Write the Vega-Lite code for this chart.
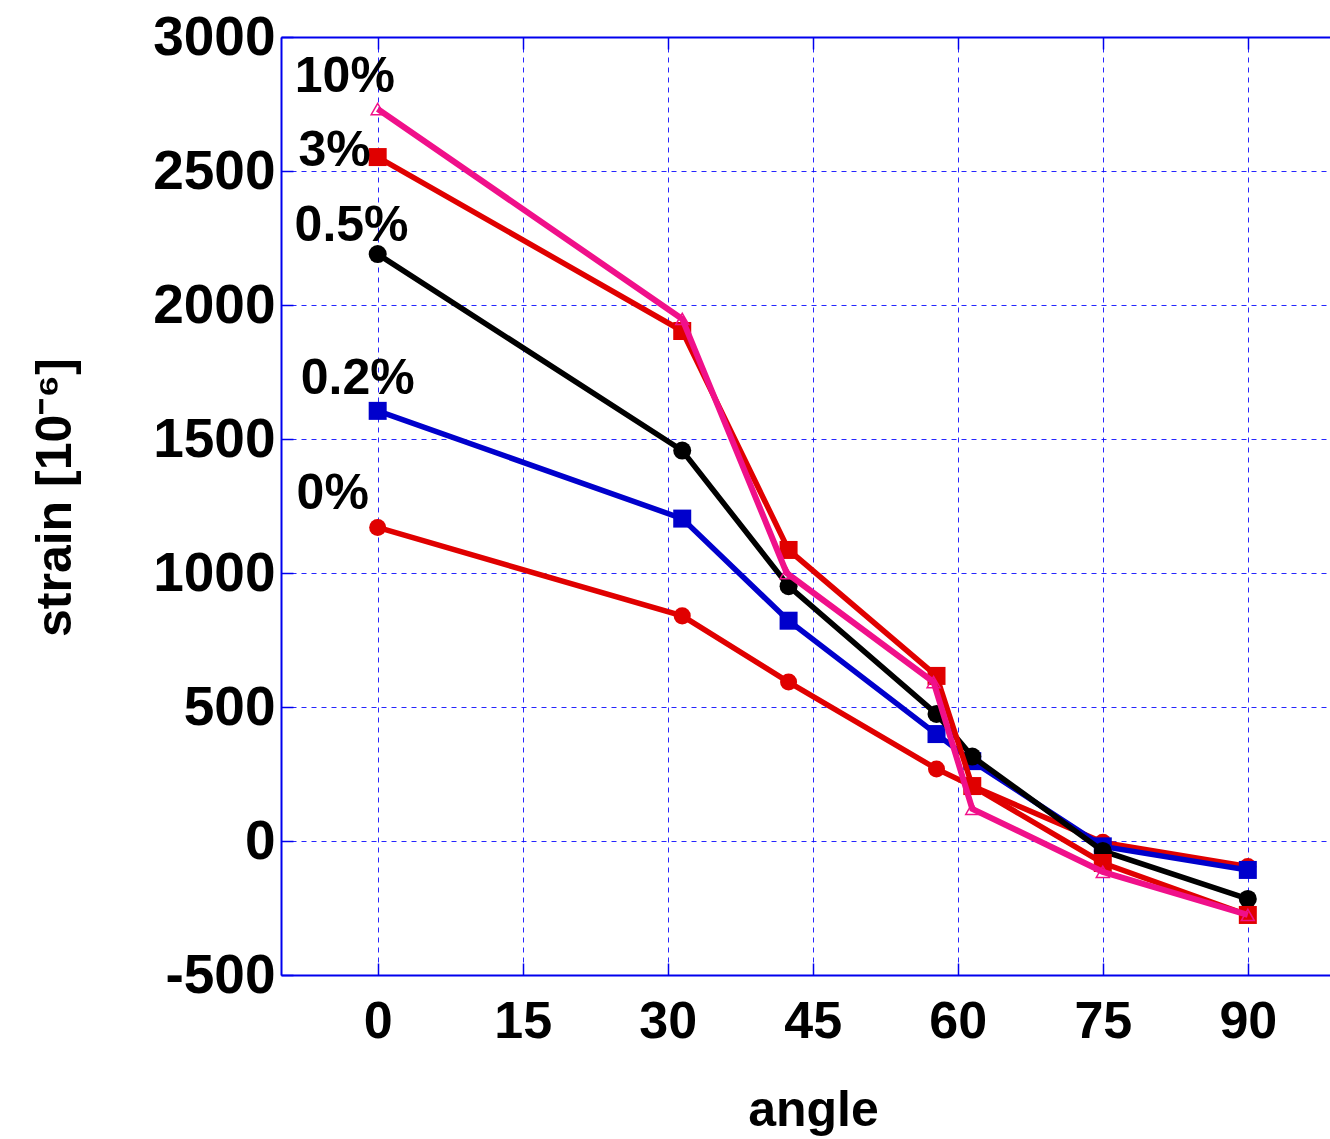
{
  "$schema": "https://vega.github.io/schema/vega-lite/v6.json",
  "autosize": "none",
  "width": 1049,
  "height": 938,
  "padding": {"left": 281, "top": 37, "right": 0, "bottom": 164},
  "background": "white",
  "config": {"view": {"stroke": null}, "font": "Liberation Sans"},
  "datasets": {
    "strain": [
      {"series": "0%", "angle": 0, "strain": 1170},
      {"series": "0%", "angle": 31.5, "strain": 840},
      {"series": "0%", "angle": 42.5, "strain": 593},
      {"series": "0%", "angle": 57.8, "strain": 269},
      {"series": "0%", "angle": 61.5, "strain": 205},
      {"series": "0%", "angle": 75, "strain": -5},
      {"series": "0%", "angle": 90, "strain": -95},
      {"series": "0.2%", "angle": 0, "strain": 1605},
      {"series": "0.2%", "angle": 31.5, "strain": 1203},
      {"series": "0.2%", "angle": 42.5, "strain": 822},
      {"series": "0.2%", "angle": 57.8, "strain": 399},
      {"series": "0.2%", "angle": 61.5, "strain": 298},
      {"series": "0.2%", "angle": 75, "strain": -20},
      {"series": "0.2%", "angle": 90, "strain": -108},
      {"series": "0.5%", "angle": 0, "strain": 2190},
      {"series": "0.5%", "angle": 31.5, "strain": 1457},
      {"series": "0.5%", "angle": 42.5, "strain": 951},
      {"series": "0.5%", "angle": 57.8, "strain": 474},
      {"series": "0.5%", "angle": 61.5, "strain": 315},
      {"series": "0.5%", "angle": 75, "strain": -37},
      {"series": "0.5%", "angle": 90, "strain": -216},
      {"series": "3%", "angle": 0, "strain": 2552},
      {"series": "3%", "angle": 31.5, "strain": 1903},
      {"series": "3%", "angle": 42.5, "strain": 1086},
      {"series": "3%", "angle": 57.8, "strain": 616},
      {"series": "3%", "angle": 61.5, "strain": 205},
      {"series": "3%", "angle": 75, "strain": -82},
      {"series": "3%", "angle": 90, "strain": -276},
      {"series": "10%", "angle": 0, "strain": 2731},
      {"series": "10%", "angle": 31.5, "strain": 1948},
      {"series": "10%", "angle": 42.3, "strain": 1000},
      {"series": "10%", "angle": 57.5, "strain": 593},
      {"series": "10%", "angle": 61.5, "strain": 120},
      {"series": "10%", "angle": 75, "strain": -115},
      {"series": "10%", "angle": 90, "strain": -276}
    ],
    "labels": [
      {"label": "10%", "angle": -3.4, "strain": 2850},
      {"label": "3%", "angle": -4.45, "strain": 2575},
      {"label": "0.5%", "angle": -2.7, "strain": 2295},
      {"label": "0.2%", "angle": -2.07, "strain": 1725},
      {"label": "0%", "angle": -4.65, "strain": 1295}
    ]
  },
  "resolve": {"axis": {"x": "independent"}},
  "layer": [
    {
      "layer": [
        {
          "data": {"name": "strain"},
          "transform": [{"filter": "datum.series === '0%'"}],
          "mark": {"type": "line", "color": "#e00000", "strokeWidth": 5.5, "point": {"filled": true, "shape": "circle", "size": 290, "color": "#e00000"}},
          "encoding": {
            "x": {"field": "angle", "type": "quantitative", "scale": {"domain": [-10, 98.5], "nice": false, "zero": false},
              "axis": {"values": [0, 15, 30, 45, 60, 75, 90], "labelExpr": "'' + datum.value", "title": "angle", "titleFont": "Liberation Sans", "titleFontSize": 50, "titleFontWeight": "bold", "titleColor": "black", "titleX": 532, "titleY": 135, "titleBaseline": "middle", "titleAlign": "center",
                "labelFont": "Liberation Sans", "labelFontSize": 52, "labelFontWeight": "bold", "labelColor": "black", "labelPadding": 33, "labelFlush": false, "labelOverlap": false,
                "domainColor": "#0000ee", "domainWidth": 2, "tickColor": "#0000ee", "tickWidth": 1.5, "tickSize": -12,
                "grid": true, "gridColor": "#0000ff", "gridDash": [5, 5], "gridWidth": 1, "gridOpacity": 0.85}},
            "y": {"field": "strain", "type": "quantitative", "scale": {"domain": [-500, 3000], "nice": false, "zero": false},
              "axis": {"values": [-500, 0, 500, 1000, 1500, 2000, 2500, 3000], "labelExpr": "'' + datum.value", "title": "strain [10⁻⁶]", "titleFont": "Liberation Sans", "titleFontSize": 50, "titleFontWeight": "bold", "titleColor": "black", "titleX": -226, "titleY": 460, "titleBaseline": "middle", "titleAlign": "center", "titleAngle": -90,
                "labelFont": "Liberation Sans", "labelFontSize": 55, "labelFontWeight": "bold", "labelColor": "black", "labelPadding": 18, "labelFlush": false, "labelOverlap": false,
                "domainColor": "#0000ee", "domainWidth": 2, "tickColor": "#0000ee", "tickWidth": 1.5, "tickSize": -12,
                "grid": true, "gridColor": "#0000ff", "gridDash": [5, 5], "gridWidth": 1, "gridOpacity": 0.85}}
          }
        },
        {
          "data": {"name": "strain"},
          "transform": [{"filter": "datum.series === '0.2%'"}],
          "mark": {"type": "line", "color": "#0000cc", "strokeWidth": 5.5, "point": {"filled": true, "shape": "square", "size": 324, "color": "#0000cc"}},
          "encoding": {
            "x": {"field": "angle", "type": "quantitative", "scale": {"domain": [-10, 98.5], "nice": false, "zero": false}},
            "y": {"field": "strain", "type": "quantitative", "scale": {"domain": [-500, 3000], "nice": false, "zero": false}}
          }
        },
        {
          "data": {"name": "strain"},
          "transform": [{"filter": "datum.series === '0.5%'"}],
          "mark": {"type": "line", "color": "#000000", "strokeWidth": 5.5, "point": {"filled": true, "shape": "circle", "size": 324, "color": "#000000"}},
          "encoding": {
            "x": {"field": "angle", "type": "quantitative", "scale": {"domain": [-10, 98.5], "nice": false, "zero": false}},
            "y": {"field": "strain", "type": "quantitative", "scale": {"domain": [-500, 3000], "nice": false, "zero": false}}
          }
        },
        {
          "data": {"name": "strain"},
          "transform": [{"filter": "datum.series === '3%'"}],
          "mark": {"type": "line", "color": "#e00000", "strokeWidth": 5.5, "point": {"filled": true, "shape": "square", "size": 324, "color": "#e00000"}},
          "encoding": {
            "x": {"field": "angle", "type": "quantitative", "scale": {"domain": [-10, 98.5], "nice": false, "zero": false}},
            "y": {"field": "strain", "type": "quantitative", "scale": {"domain": [-500, 3000], "nice": false, "zero": false}}
          }
        },
        {
          "data": {"name": "strain"},
          "transform": [{"filter": "datum.series === '10%'"}],
          "mark": {"type": "line", "color": "#f0108a", "strokeWidth": 6, "point": {"filled": false, "shape": "triangle-up", "size": 170, "color": "#f0108a", "strokeWidth": 1.5}},
          "encoding": {
            "x": {"field": "angle", "type": "quantitative", "scale": {"domain": [-10, 98.5], "nice": false, "zero": false}},
            "y": {"field": "strain", "type": "quantitative", "scale": {"domain": [-500, 3000], "nice": false, "zero": false}}
          }
        },
        {
          "data": {"name": "labels"},
          "mark": {"type": "text", "font": "Liberation Sans", "fontSize": 50, "fontWeight": "bold", "color": "black", "align": "center", "baseline": "middle"},
          "encoding": {
            "x": {"field": "angle", "type": "quantitative", "scale": {"domain": [-10, 98.5], "nice": false, "zero": false}},
            "y": {"field": "strain", "type": "quantitative", "scale": {"domain": [-500, 3000], "nice": false, "zero": false}},
            "text": {"field": "label", "type": "nominal"}
          }
        }
      ]
    },
    {
      "data": {"name": "strain"},
      "mark": {"type": "point", "opacity": 0},
      "encoding": {
        "x": {"field": "angle", "type": "quantitative", "scale": {"domain": [-10, 98.5], "nice": false, "zero": false},
          "axis": {"orient": "top", "values": [0, 15, 30, 45, 60, 75, 90], "title": null, "labels": false, "grid": false,
            "domainColor": "#0000ee", "domainWidth": 2, "tickColor": "#0000ee", "tickWidth": 1.5, "tickSize": -12}}
      }
    }
  ]
}
